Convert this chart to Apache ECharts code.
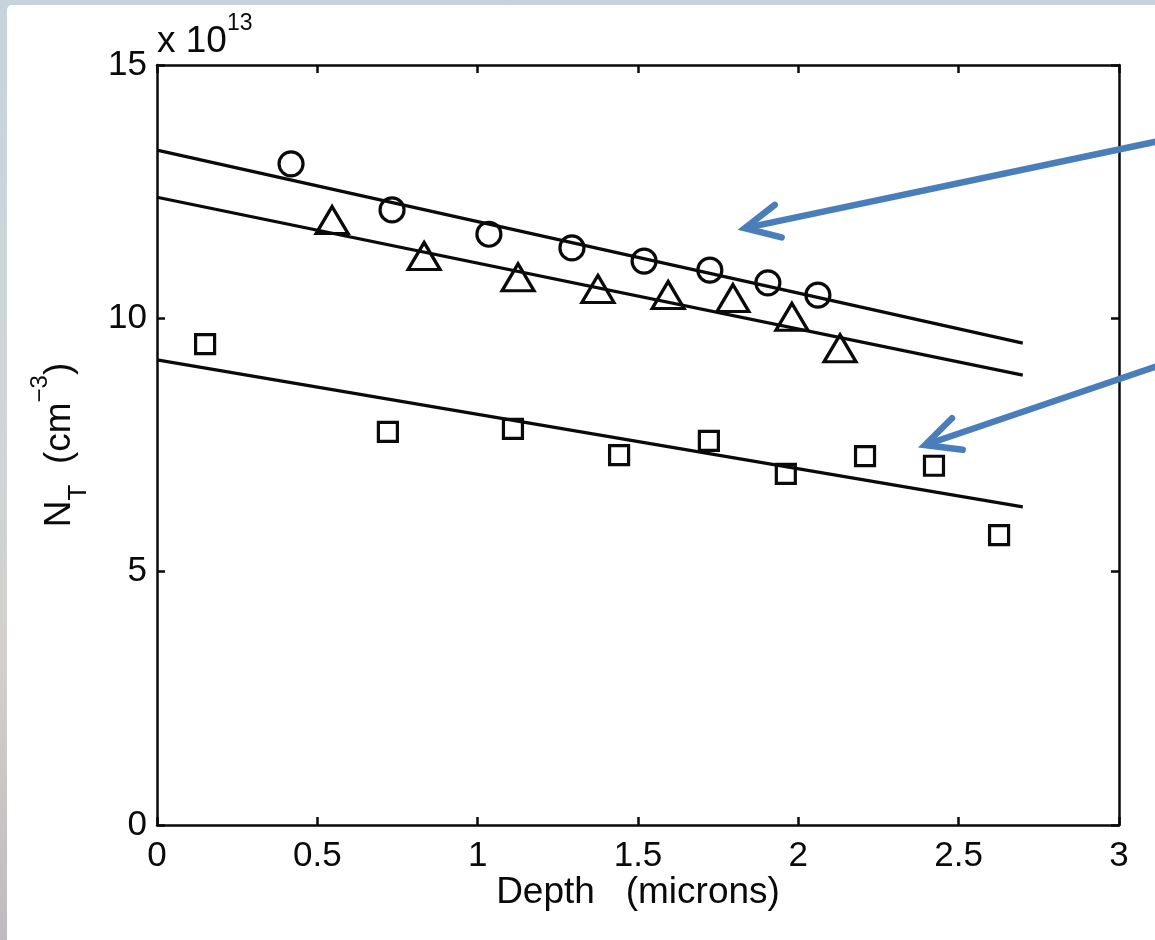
<!DOCTYPE html>
<html>
<head>
<meta charset="utf-8">
<script src="https://cdn.jsdelivr.net/npm/echarts@6/dist/echarts.min.js"></script>
<style>
  html, body { margin: 0; padding: 0; width: 1155px; height: 940px; overflow: hidden;
    background: linear-gradient(to bottom, #c6d3dc 0%, #cfd6d8 45%, #d2d0cc 70%, #c2b9be 100%); }
  #panel { position: absolute; left: 7px; top: 5px; width: 1148px; height: 935px; background: #ffffff; border-top-left-radius: 5px; }
  #chart { position: absolute; left: 0; top: 0; width: 1155px; height: 940px; }
</style>
</head>
<body>
<div id="panel"></div>
<div id="chart"></div>
<script>
// ---- data (x in microns, y in units of 1e13 cm^-3) ----
const xTicks = [0, 0.5, 1, 1.5, 2, 2.5, 3];
const yTicks = [0, 5, 10, 15];

const circleX = [0.418, 0.733, 1.035, 1.294, 1.519, 1.724, 1.905, 2.061];
const circleY = [13.05, 12.14, 11.66, 11.39, 11.13, 10.95, 10.70, 10.46];

const triangleX = [0.546, 0.833, 1.126, 1.375, 1.594, 1.796, 1.980, 2.130];
const triangleY = [11.94, 11.23, 10.81, 10.58, 10.46, 10.40, 10.03, 9.41];

const squareX = [0.150, 0.720, 1.110, 1.441, 1.721, 1.961, 2.208, 2.423, 2.626];
const squareY = [9.49, 7.76, 7.82, 7.30, 7.58, 6.93, 7.28, 7.09, 5.72];

const fitX = [0, 2.7];
const fitCircleY = [13.32, 9.51];
const fitTriangleY = [12.39, 8.88];
const fitSquareY = [9.18, 6.28];

// annotation arrows (data units): tip and tail
const arrowTips = [[1.833, 11.78], [2.395, 7.50]];
const arrowTails = [[3.2, 13.60], [3.2, 9.23]];

const FONT = '"Liberation Sans", Arial, Helvetica, sans-serif';
const INK = '#0a0a0a';

function pairs(xs, ys) { return xs.map((x, i) => [x, ys[i]]); }

const chart = echarts.init(document.getElementById('chart'), null, { renderer: 'canvas' });

const axisLineStyle = { color: INK, width: 2.5 };
const tickStyle = { show: true, inside: true, length: 8, lineStyle: { color: INK, width: 2.5 } };
const markerStyle = { color: 'rgba(0,0,0,0)', borderColor: INK, borderWidth: 3.2, opacity: 1 };

const option = {
  animation: false,
  backgroundColor: 'transparent',
  grid: { left: 157, right: 36, top: 65, bottom: 115, containLabel: false },
  xAxis: [
    {
      type: 'value', position: 'bottom',
      min: xTicks[0], max: xTicks[xTicks.length - 1], interval: xTicks[1] - xTicks[0],
      axisLine: { show: true, onZero: false, lineStyle: axisLineStyle },
      axisTick: tickStyle,
      splitLine: { show: false },
      axisLabel: { show: true, margin: 14, fontSize: 35, fontFamily: FONT, color: INK,
        formatter: v => String(v) }
    },
    {
      type: 'value', position: 'top',
      min: xTicks[0], max: xTicks[xTicks.length - 1], interval: xTicks[1] - xTicks[0],
      axisLine: { show: true, onZero: false, lineStyle: axisLineStyle },
      axisTick: tickStyle,
      splitLine: { show: false },
      axisLabel: { show: false }
    }
  ],
  yAxis: [
    {
      type: 'value', position: 'left',
      min: yTicks[0], max: yTicks[yTicks.length - 1], interval: yTicks[1] - yTicks[0],
      axisLine: { show: true, onZero: false, lineStyle: axisLineStyle },
      axisTick: tickStyle,
      splitLine: { show: false },
      axisLabel: { show: true, margin: 10, fontSize: 35, fontFamily: FONT, color: INK,
        formatter: v => String(v) }
    },
    {
      type: 'value', position: 'right',
      min: yTicks[0], max: yTicks[yTicks.length - 1], interval: yTicks[1] - yTicks[0],
      axisLine: { show: true, onZero: false, lineStyle: axisLineStyle },
      axisTick: tickStyle,
      splitLine: { show: false },
      axisLabel: { show: false }
    }
  ],
  series: [
    { type: 'line', data: pairs(fitX, fitCircleY), showSymbol: false, symbol: 'none',
      lineStyle: { color: INK, width: 3.2 }, z: 2 },
    { type: 'line', data: pairs(fitX, fitTriangleY), showSymbol: false, symbol: 'none',
      lineStyle: { color: INK, width: 3.2 }, z: 2 },
    { type: 'line', data: pairs(fitX, fitSquareY), showSymbol: false, symbol: 'none',
      lineStyle: { color: INK, width: 3.2 }, z: 2 },
    { type: 'scatter', data: pairs(circleX, circleY), symbol: 'circle', symbolSize: 24,
      itemStyle: markerStyle, z: 3 },
    { type: 'scatter', data: pairs(triangleX, triangleY), symbol: 'triangle', symbolSize: [32, 27],
      itemStyle: markerStyle, z: 3 },
    { type: 'scatter', data: pairs(squareX, squareY), symbol: 'rect', symbolSize: 19,
      itemStyle: markerStyle, z: 3 }
  ]
};

chart.setOption(option);

// ---- text annotations and arrows ----
const gridRect = { left: 157, right: 1155 - 36, top: 65, bottom: 940 - 115 };
const cx = (gridRect.left + gridRect.right) / 2;
const cy = (gridRect.top + gridRect.bottom) / 2;

const ARROW = '#4a7ebb';
const graphics = [];

arrowTips.forEach((tip, i) => {
  const p = chart.convertToPixel({ xAxisIndex: 0, yAxisIndex: 0 }, tip);
  const q = chart.convertToPixel({ xAxisIndex: 0, yAxisIndex: 0 }, arrowTails[i]);
  const ang = Math.atan2(q[1] - p[1], q[0] - p[0]);
  const L = 38, spread = 26 * Math.PI / 180;
  const w1 = [p[0] + L * Math.cos(ang - spread), p[1] + L * Math.sin(ang - spread)];
  const w2 = [p[0] + L * Math.cos(ang + spread), p[1] + L * Math.sin(ang + spread)];
  graphics.push({ type: 'polyline', z: 10, silent: true,
    shape: { points: [q, p] },
    style: { stroke: ARROW, lineWidth: 6.5, lineCap: 'butt', fill: null } });
  graphics.push({ type: 'polyline', z: 10, silent: true,
    shape: { points: [w1, p, w2] },
    style: { stroke: ARROW, lineWidth: 6.5, lineCap: 'round', lineJoin: 'miter', fill: null } });
});

// x-axis title
graphics.push({ type: 'text', z: 5, silent: true, x: cx, y: 893,
  style: { text: 'Depth   (microns)', font: '37px ' + FONT, fill: INK,
    align: 'center', verticalAlign: 'middle' } });

// y-axis title (rotated)
graphics.push({ type: 'text', z: 5, silent: true, x: 60, y: cy, rotation: Math.PI / 2,
  style: {
    text: '{n|N}{sub|T}{n|  (cm}{sup|\u22123}{n|)}',
    align: 'center', verticalAlign: 'middle', fill: INK,
    rich: {
      n: { fontSize: 37, fontFamily: FONT, fill: INK, lineHeight: 64, verticalAlign: 'middle' },
      sub: { fontSize: 26, fontFamily: FONT, fill: INK, lineHeight: 26, verticalAlign: 'bottom' },
      sup: { fontSize: 24, fontFamily: FONT, fill: INK, lineHeight: 24, verticalAlign: 'top' }
    }
  } });

// exponent label
graphics.push({ type: 'text', z: 5, silent: true, x: 157, y: 42,
  style: {
    text: '{n|x 10}{sup|13}',
    align: 'left', verticalAlign: 'middle', fill: INK,
    rich: {
      n: { fontSize: 37, fontFamily: FONT, fill: INK, lineHeight: 60, verticalAlign: 'middle' },
      sup: { fontSize: 23, fontFamily: FONT, fill: INK, lineHeight: 24, verticalAlign: 'top' }
    }
  } });

chart.setOption({ graphic: { elements: graphics } });
</script>
</body>
</html>
